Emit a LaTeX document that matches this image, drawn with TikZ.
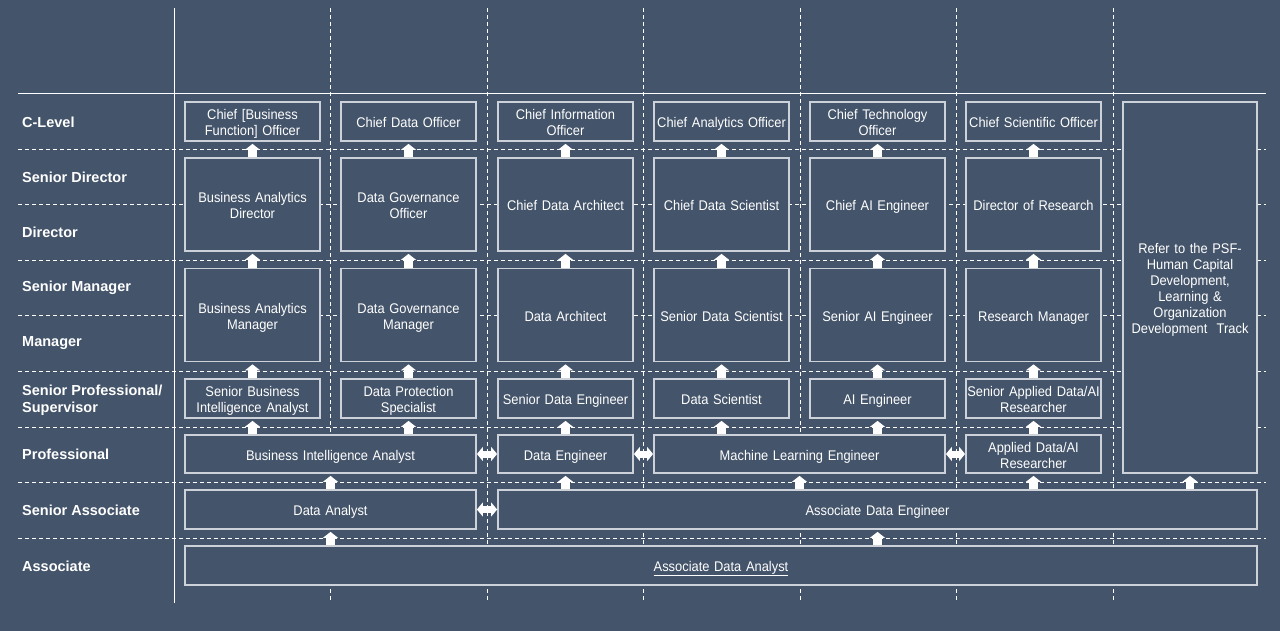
\documentclass[tikz,border=0pt]{standalone}
\usepackage{fontspec}
\setmainfont{Liberation Sans}[FakeStretch=0.92,WordSpace=1.3]
\newfontfamily\lvlfont{Liberation Sans}
\usetikzlibrary{arrows.meta,calc}
\definecolor{slate}{RGB}{68,84,106}
\definecolor{rim}{RGB}{205,210,218}
\newcommand{\tstrut}{\rule{0pt}{15.9pt}}

\begin{document}
\begin{tikzpicture}[x=1pt,y=-1pt,
    role/.style={draw=rim, line width=1.8pt, fill=slate, text=white, align=center,
      inner sep=1pt, font=\fontsize{14}{16}\selectfont,
      execute at begin node={\rule{0pt}{15.9pt}},
      execute at end node={\rule[-3.5pt]{0pt}{0pt}}},
    small/.style={role, minimum width=135pt, minimum height=39pt},
    tall/.style={role, minimum width=135pt, minimum height=93pt},
    lvl/.style={anchor=west, text=white, align=left, inner sep=0pt,
      font=\lvlfont\fontsize{14.5}{17}\selectfont\bfseries},
    uparr/.style={white, line width=8.5pt, -{Triangle[width=15pt,length=6pt]}, shorten >=2pt},
    dblarr/.style={white, line width=7pt,
      {Triangle[width=14pt,length=6pt]}-{Triangle[width=14pt,length=6pt]}},
    grid/.style={white, line width=0.8pt, dash pattern=on 4pt off 3pt}]

        \fill[slate] (0, 0) rectangle (1280, 631);

        % frame
        \draw[white, line width=0.8pt] (174, 8) -- (174, 603);
        \draw[white, line width=0.8pt] (18, 93) -- (1266, 93);

        \draw[grid] (330, 8) -- (330, 601);
        \draw[grid] (487, 8) -- (487, 601);
        \draw[grid] (643, 8) -- (643, 601);
        \draw[grid] (800, 8) -- (800, 601);
        \draw[grid] (956, 8) -- (956, 601);
        \draw[grid] (1113, 8) -- (1113, 601);

        \draw[grid] (18, 149) -- (1266, 149);
        \draw[grid] (18, 204) -- (1266, 204);
        \draw[grid] (18, 260) -- (1266, 260);
        \draw[grid] (18, 315) -- (1266, 315);
        \draw[grid] (18, 371) -- (1266, 371);
        \draw[grid] (18, 427) -- (1266, 427);
        \draw[grid] (18, 482) -- (1266, 482);
        \draw[grid] (18, 538) -- (1266, 538);

        % levels
        \node[lvl] (lvc) at (22, 122) {C-Level};
        \node[lvl] (lvsd) at (22, 177) {Senior Director};
        \node[lvl] (lvd) at (22, 232) {Director};
        \node[lvl] (lvsm) at (22, 288) {Senior Manager};
        \node[lvl] (lvm) at (22, 343) {Manager};
        \node[lvl] (lvsp) at (22, 400) {Senior Professional/\\Supervisor};
        \node[lvl] (lvp) at (22, 454) {Professional};
        \node[lvl] (lvsa) at (22, 510) {Senior Associate};
        \node[lvl] (lva) at (22, 566) {Associate};

        % C-Level
        \node[small] (cbf) at (252.5, 121.5) {\tstrut Chief [Business\\Function] Officer};
        \node[small] (cdo) at (408.5, 121.5) {Chief Data Officer};
        \node[small] (cio) at (565.5, 121.5) {\tstrut Chief Information\\Officer};
        \node[small] (cao) at (721.5, 121.5) {Chief Analytics Officer};
        \node[small] (cto) at (877.5, 121.5) {\tstrut Chief Technology\\Officer};
        \node[small] (cso) at (1033.5, 121.5) {Chief Scientific Officer};

        % Senior Director / Director
        \node[tall] (bad) at (252.5, 204.5) {\tstrut Business Analytics\\Director};
        \node[tall] (dgo) at (408.5, 204.5) {\tstrut Data Governance\\Officer};
        \node[tall] (cda) at (565.5, 204.5) {Chief Data Architect};
        \node[tall] (cds) at (721.5, 204.5) {Chief Data Scientist};
        \node[tall] (cai) at (877.5, 204.5) {Chief AI Engineer};
        \node[tall] (dor) at (1033.5, 204.5) {Director of Research};

        % Senior Manager / Manager
        \node[tall] (bam) at (252.5, 315) {\tstrut Business Analytics\\Manager};
        \node[tall] (dgm) at (408.5, 315) {\tstrut Data Governance\\Manager};
        \node[tall] (darch) at (565.5, 315) {Data Architect};
        \node[tall] (sds) at (721.5, 315) {Senior Data Scientist};
        \node[tall] (saie) at (877.5, 315) {Senior AI Engineer};
        \node[tall] (rm) at (1033.5, 315) {Research Manager};

        % Senior Professional
        \node[small] (sbia) at (252.5, 398.5) {\tstrut Senior Business\\Intelligence Analyst};
        \node[small] (dps) at (408.5, 398.5) {\tstrut Data Protection\\Specialist};
        \node[small] (sde) at (565.5, 398.5) {Senior Data Engineer};
        \node[small] (ds) at (721.5, 398.5) {Data Scientist};
        \node[small] (aie) at (877.5, 398.5) {AI Engineer};
        \node[small] (sadr) at (1033.5, 398.5) {\tstrut Senior Applied Data/AI\\Researcher};

        % Professional
        \node[small, minimum width=291pt, minimum height=38pt] (bia) at (330.5, 454) {Business Intelligence Analyst};
        \node[small, minimum height=38pt] (de) at (565.5, 454) {Data Engineer};
        \node[small, minimum width=291pt, minimum height=38pt] (mle) at (799.5, 454) {Machine Learning Engineer};
        \node[small, minimum height=38pt] (adr) at (1033.5, 454) {\tstrut Applied Data/AI\\Researcher};

        % Senior Associate / Associate
        \node[small, minimum width=291pt] (dan) at (330.5, 509.5) {Data Analyst};
        \node[small, minimum width=759pt] (ade) at (877.5, 509.5) {Associate Data Engineer};
        \node[small, minimum width=1072pt] (ada) at (721, 565.5) {\underline{Associate Data Analyst}};

        \node[role, minimum width=134pt, minimum height=371pt] (psf) at (1190, 287.5)
          {\tstrut Refer to the PSF-\\Human Capital\\Development,\\Learning \&\\Organization\\Development\ \ Track};

        % progression
        \draw[uparr] (bad.north) -- (cbf.south);
        \draw[uparr] (dgo.north) -- (cdo.south);
        \draw[uparr] (cda.north) -- (cio.south);
        \draw[uparr] (cds.north) -- (cao.south);
        \draw[uparr] (cai.north) -- (cto.south);
        \draw[uparr] (dor.north) -- (cso.south);

        \draw[uparr] (bam.north) -- (bad.south);
        \draw[uparr] (dgm.north) -- (dgo.south);
        \draw[uparr] (darch.north) -- (cda.south);
        \draw[uparr] (sds.north) -- (cds.south);
        \draw[uparr] (saie.north) -- (cai.south);
        \draw[uparr] (rm.north) -- (dor.south);

        \draw[uparr] (sbia.north) -- (bam.south);
        \draw[uparr] (dps.north) -- (dgm.south);
        \draw[uparr] (sde.north) -- (darch.south);
        \draw[uparr] (ds.north) -- (sds.south);
        \draw[uparr] (aie.north) -- (saie.south);
        \draw[uparr] (sadr.north) -- (rm.south);

        \draw[uparr] (bia.north -| sbia.south) -- (sbia.south);
        \draw[uparr] (bia.north -| dps.south) -- (dps.south);
        \draw[uparr] (de.north) -- (sde.south);
        \draw[uparr] (mle.north -| ds.south) -- (ds.south);
        \draw[uparr] (mle.north -| aie.south) -- (aie.south);
        \draw[uparr] (adr.north) -- (sadr.south);

        \draw[uparr] (dan.north) -- (bia.south);
        \draw[uparr] (ade.north -| de.south) -- (de.south);
        \draw[uparr] (ade.north -| mle.south) -- (mle.south);
        \draw[uparr] (ade.north -| adr.south) -- (adr.south);
        \draw[uparr] (ade.north -| psf.south) -- (psf.south);

        \draw[uparr] (ada.north -| dan.south) -- (dan.south);
        \draw[uparr] (ada.north -| ade.south) -- (ade.south);

        % lateral moves
        \draw[dblarr] (bia.east) -- (de.west);
        \draw[dblarr] (de.east) -- (mle.west);
        \draw[dblarr] (mle.east) -- (adr.west);
        \draw[dblarr] (dan.east) -- (ade.west);
      \end{tikzpicture}
\end{document}
